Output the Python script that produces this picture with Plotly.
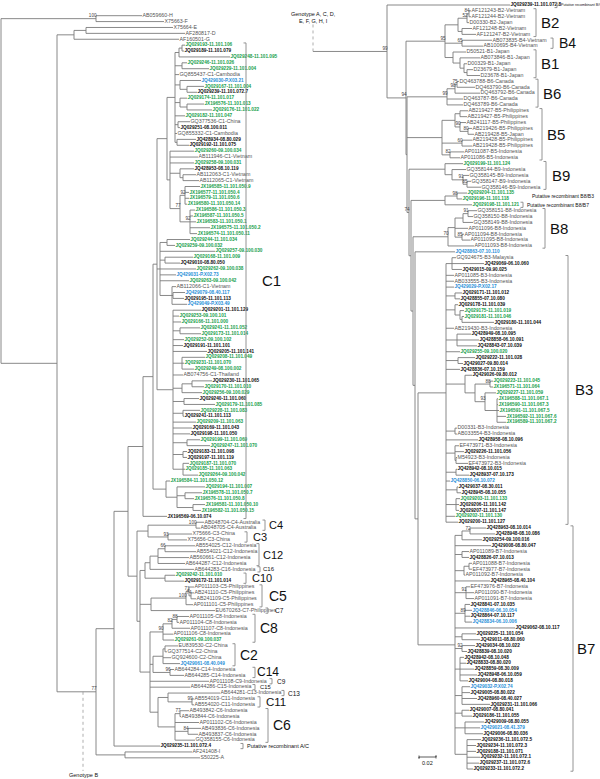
import plotly.graph_objects as go

# Branch lengths are in units of 0.02/17 substitutions per site (scale bar = 17 units)
SCALE_BAR_UNITS = 17
SCALE_BAR_LABEL = "0.02"

# ---------------- left panel: genotype C and outgroups ----------------
HF = "(AB059660-H:46,X75663-F:68)100:95"
EDG = "((X75664-E:87,AF280817-D:99):12,AF160501-G:105):17"

C1_BLOCK_A = ("(((JQ029193-11.101.106:3,JQ029189-11.101.079:2):3,JQ029248-11.101.095:51):4,"
              "(JQ029246-11.101.026:5,JQ029229-11.101.004:27):7,GQ855437-C1-Cambodia:4,"
              "(JQ429030-P.X03.21:21,(JQ029167-11.101.004:17,JQ029239-11.101.072.7:10):7):5,"
              "(JQ029174-11.101.017:7,(JX196576-11.101.013:17,JQ029176-11.101.022:25):7):5,"
              "JQ029182-11.101.047:10,(GQ377536-C1-China:12,JQ029251-08.100.011:2):3,"
              "GQ855332-C1-Cambodia:2,(JQ428934-08.80.029:19,JQ029192-11.101.075:12):2):8")
C1_BLOCK_B = ("(JQ029260-09.100.034:24,AB111946-C1-Vietnam:28,JQ029258-09.100.031:24,"
              "(JQ428953-08.10.119:14,(AB112063-C1-Vietnam:13,AB112065-C1-Vietnam:16):3):10,"
              "((JX196585-11.101.050.9:15,JX196577-11.101.050.4:4,JX196579-11.101.050.6:4,"
              "JX196580-11.101.050.14:2)92:5,(JX196586-11.101.050.3:5,JX196587-11.101.050.5:3,"
              "JX196583-11.101.050.1:6,JX196575-11.101.050.2:20,JX196574-11.101.050.11:7)92:10)77:10):3")
C1_BLOCK_C = ("((JQ029244-11.101.034:23,JQ029259-09.100.032:8):7,JQ029257-09.100.030:55,"
              "(JQ029168-11.101.009:28,JQ429010-08.80.050:15):5,JQ029262-09.100.038:36,"
              "JQ429031-P.X02.73:16,JQ029263-09.100.042:29,"
              "(AB112066-C1-Vietnam:4,(JQ429079-08.40.117:12,JQ029195-11.101.113:11):1,"
              "JQ429049-P.X03.49:15):12):3")
C1_BLOCK_D = ("(JQ029201-11.101.129:28,JQ029253-09.100.101:6,JQ029166-11.101.000:8,"
              "(JQ029241-11.101.052:20,JQ029173-11.101.014:21):7,JQ029252-09.100.102:11,"
              "JQ029191-11.101.101:10,JQ029205-11.101.141:34,"
              "(JQ029208-11.101.049:23,JQ029231-11.101.070:2,JQ029249-08.100.002:12):9,"
              "AB074756-C1-Thailand:10,"
              "((JQ029230-11.101.065:20,JQ029170-11.101.010:12):10,JQ029256-09.100.029:20):9,"
              "(JQ029240-11.101.060:15,JQ029179-11.101.085:31):11,"
              "(JQ029228-11.101.083:17,JQ029241-11.101.113:1):10,JQ029209-11.101.063:23,"
              "JQ029169-11.101.043:19,JQ029198-11.101.050:17,"
              "(JQ029199-11.101.069:13,JQ029247-11.101.070:23):14,"
              "(JQ029183-11.101.098:4,JQ029197-11.101.119:4):10,"
              "(JQ029187-11.101.070:6,JQ029185-11.101.063:2,JQ029264-09.100.042:15):10):16")
C1_LOW = ("(JX196584-11.101.050.12:4,(JQ029194-11.101.007:28,"
          "(JX196578-11.101.050.7:17,JX196576-11.101.050.8:9):8,"
          "(JX196581-11.101.050.10:12,JX196582-11.101.050.15:8):16):11):13")
C1 = f"(((({C1_BLOCK_A},{C1_BLOCK_B}):10,{C1_BLOCK_C},{C1_BLOCK_D}):4,{C1_LOW}):10,JX196569-06.10.074:24):15"

C4_C3 = ("((AB048704-C4-Australia:8,AB048705-C4-Australia:4)100:48,"
         "(X75666-C3-China:24,X75656-C3-China:19)93:20):11")
C12_C16_C10 = ("((((AB554025-C12-Indonesia:30,AB554021-C12-Indonesia:31)66:7,"
               "AB560661-C12-Indonesia:31,AB644287-C12-Indonesia:27):8,AB644283-C16-Indonesia:44):5,"
               "(JQ029242-11.101.010:10,JQ029172-11.101.014:19):20):5")
C5_C7 = ("(((AP011103-C5-Philippines:5,(AB241110-C5-Philippines:3,AB241109-C5-Philippines:5)74:2)71:3,"
         "AP011101-C5-Philippines:7)100:35,EU670263-C7-Philippines:64):11")
C8 = ("(((AP011105-C8-Indonesia:12,AP011104-C8-Indonesia:2)88:5,AP011107-C8-Indonesia:18)82:9,"
      "AP011106-C8-Indonesia:10,JQ029261-09.100.037:11)90:13")
C2_C14 = ("(((EU839530-C2-China:13,GQ377514-C2-China:2):2,GQ924600-C2-China:8,JQ429061-08.40.049:17):10,"
          "(AB644284-C14-Indonesia:4,AB644285-C14-Indonesia:14)96:17):3")
C13_C11_C6 = ("((AB644281-C13-Indonesia:52,(AB554019-C11-Indonesia:2,AB554020-C11-Indonesia:2)99:24):10,"
              "((AB493842-C6-Indonesia:9,AB493844-C6-Indonesia:1)77:5,AP011102-C6-Indonesia:24,"
              "(AB493836-C6-Indonesia:13,AB493837-C6-Indonesia:10)84:13,GQ358155-C6-Indonesia:20):17):8")
C_OTHERS = (f"({C4_C3},({C12_C16_C10},{C5_C7},({C8},{C2_C14},AP011108-C9-Indonesia:59,"
            f"AB644286-C15-Indonesia:40,{C13_C11_C6}):10):3):9")
LEFT_TREE = (f"({HF},({EDG},((({C1},{C_OTHERS}):14,JQ029235-11.101.072.4:46):18,"
             f"(AF241408-I:67,S50225-A:75):29)77:39):56);")

# ---------------- right panel: genotype B ----------------
B2 = ("(((AF121243-B2-Vietnam:2,AF121244-B2-Vietnam:2)84:2,D00330-B2-Japan:2)52:9,"
      "(AF121248-B2-Vietnam:10,AF121247-B2-Vietnam:14):4)")
B4 = "(AB073835-B4-Vietnam:30,AB100695-B4-Vietnam:21)65"
B1 = ("(D50521-B1-Japan:13,(AB073846-B1-Japan:20,(D00329-B1-Japan:3,"
      "(D23679-B1-Japan:6,D23678-B1-Japan:13):3):4):7)")
B6 = ("(((DQ463788-B6-Canada:2,DQ463790-B6-Canada:18)75:2,DQ463792-B6-Canada:25)98:8,"
      "DQ463787-B6-Canada:16,DQ463789-B6-Canada:16)99")
B5 = ("(((AB219427-B5-Philippines:8,AB219427-B5-Philippines:7):5,(AB241117-B5-Philippines:6,"
      "(AB219426-B5-Philippines:4,AB219428-B5-Japan:6)80:8)90:5):13,"
      "(AB219428-B5-Philippines:10,AB219428-B5-Philippines:10)60:20,"
      "(AP011087-B5-Indonesia:14,AP011086-B5-Indonesia:10)82:8)")
B9 = ("(JQ029199-11.101.124:18,(GQ358144-B9-Indonesia:14,(GQ358145-B9-Indonesia:6,"
      "(GQ358147-B9-Indonesia:4,GQ358146-B9-Indonesia:14)85:4)91:11):7)")
REC_B8 = "((JQ029204-11.101.135:10,JQ029196-11.101.118:5)98:12,JQ029198-11.101.121:27)"
B8 = ("((((GQ358151-B8-Indonesia:9,GQ358150-B8-Indonesia:5)91:5,GQ358149-B8-Indonesia:10):8,"
      "AP011096-B8-Indonesia:13,(AP011094-B8-Indonesia:2,AP011095-B8-Indonesia:8)85:7):7,"
      "AP011093-B8-Indonesia:26)70")
B3 = ("((GQ924675-B3-Malaysia:4,JQ429069-06.10.060:32,JQ429015-09.90.025:10):6,"
      "AP011085-B3-Indonesia:8,AB033555-B3-Indonesia:8,JQ429029-P.X02.17:8,"
      "(JQ029171-11.101.012:7,JQ428855-07.10.080:5):9,"
      "(JQ029178-11.101.039:3,(JQ029175-11.101.019:4,(JQ029181-11.101.046:2,JQ029180-11.101.044:32):2):5):9,"
      "AB219430-B3-Indonesia:8,(JQ428949-08.10.095:14,JQ428858-06.10.091:22,JQ428843-07.10.039:20):11,"
      "JQ029255-09.100.020:14,(JQ029222-11.101.028:17,JQ429027-09.80.014:5):12,JQ428836-07.10.159:14,"
      "(JQ429026-09.80.012:7,((JQ029223-11.101.045:3,JX196571-11.101.064:3)88:15,"
      "(JQ029227-11.101.059:11,(JX196588-11.101.067.1:1,JX196590-11.101.067.3:1,"
      "JX196591-11.101.067.5:2,JX196592-11.101.067.6:9,JX196589-11.101.067.2:9):12)93:10):10):19,"
      "(D00331-B3-Indonesia:2,AB033554-B3-Indonesia:2):9,JQ428958-08.10.096:32,"
      "(EF473971-B3-Indonesia:4,JQ029226-11.101.056:9,(M54923-B3-Indonesia:1,EF473972-B3-Indonesia:12):1):9,"
      "(JQ428942-08.10.015:1,JQ428937-07.10.173:13):10,JQ428850-06.10.072:4,"
      "(JQ429037-08.30.011:1,JQ428945-08.10.055:4):11,"
      "(JQ029203-11.101.133:4,JQ029206-11.101.142:3,JQ029207-11.101.147:3):10,"
      "JQ029202-11.101.130:9,JQ029200-11.101.127:12)")
B7 = ("(((JQ428963-08.10.014:16,JQ428948-08.10.086:25)72:8,JQ029254-09.100.016:20):7,"
      "JQ429008-08.80.047:36,(AP011089-B7-Indonesia:7,JQ428826-07.10.013:7):7,"
      "((AP011088-B7-Indonesia:3,EF473977-B7-Indonesia:3):5,AP011092-B7-Indonesia:1):9,"
      "JQ428965-08.40.104:35,(EF473976-B7-Indonesia:4,AP011090-B7-Indonesia:8,AP011091-B7-Indonesia:8)91:11,"
      "(JQ428841-07.10.035:5,JQ428846-06.10.054:7,JQ428864-07.10.117:5,JQ428834-06.10.006:7)89:10,"
      "JQ429062-08.10.117:60,(JQ029225-11.101.054:14,JQ429011-08.80.060:18):7,"
      "(JQ429034-08.10.022:13,JQ428839-08.10.020:5)92:7,"
      "(JQ428942-08.10.048:4,JQ428833-08.80.020:6,JQ428859-08.30.009:14,JQ428948-06.10.059:17,"
      "JQ429004-08.80.018:8):5,"
      "(JQ429032-P.X02.74:8,JQ429005-08.80.022:8,JQ428960-08.40.027:15,JQ029231-11.101.066:28):7,"
      "(JQ429007-08.80.041:7,JQ029186-11.101.055:10):7,"
      "(JQ429009-08.80.055:19,JQ429021-08.41.379:15,JQ429006-08.80.036:18):10,"
      "(JQ029236-11.101.072.5:14,JQ029234-11.101.072.3:9,JQ029188-11.101.071:9,"
      "JQ029232-11.101.072.1:13,JQ029237-11.101.072.6:12,JQ029233-11.101.072.2:6):12)")
RIGHT_TREE = (f"(JQ029239-11.101.072.8:123,(({B2}:13,{B4}:17,{B1}:8)95:39,"
              f"({B6}:40,{B5}:35,({B9}:36,({REC_B8}:34,({B8}:35,"
              f"(JQ428863-07.10.110:40,({B3}:28,{B7}:37):3):2):2):2)74:2):1)94:19)99:74;")

GREEN_TIPS = [
    "JQ029193-11.101.106", "JQ029248-11.101.095", "JQ029246-11.101.026", "JQ029229-11.101.004",
    "JQ029167-11.101.004", "JQ029174-11.101.017", "JX196576-11.101.013", "JQ029176-11.101.022",
    "JQ029182-11.101.047", "JQ029260-09.100.034", "JQ029258-09.100.031", "JX196585-11.101.050.9",
    "JX196577-11.101.050.4", "JX196579-11.101.050.6", "JX196580-11.101.050.14", "JX196586-11.101.050.3",
    "JX196587-11.101.050.5", "JX196583-11.101.050.1", "JX196575-11.101.050.2", "JX196574-11.101.050.11",
    "JQ029244-11.101.034", "JQ029259-09.100.032", "JQ029257-09.100.030", "JQ029168-11.101.009",
    "JQ029262-09.100.038", "JQ029263-09.100.042", "JQ029253-09.100.101", "JQ029166-11.101.000",
    "JQ029241-11.101.052", "JQ029173-11.101.014", "JQ029252-09.100.102", "JQ029208-11.101.049",
    "JQ029231-11.101.070", "JQ029249-08.100.002", "JQ029170-11.101.010", "JQ029256-09.100.029",
    "JQ029179-11.101.085", "JQ029228-11.101.083", "JQ029209-11.101.063", "JQ029199-11.101.069",
    "JQ029247-11.101.070", "JQ029187-11.101.070", "JQ029185-11.101.063", "JQ029264-09.100.042",
    "JX196584-11.101.050.12", "JQ029194-11.101.007", "JX196578-11.101.050.7", "JX196576-11.101.050.8",
    "JX196581-11.101.050.10", "JX196582-11.101.050.15", "JQ029242-11.101.010", "JQ029261-09.100.037",
    "JQ029199-11.101.124", "JQ029204-11.101.135", "JQ029196-11.101.118", "JQ029198-11.101.121",
    "JQ029175-11.101.019", "JQ029181-11.101.046", "JQ029255-09.100.020", "JQ029223-11.101.045",
    "JX196571-11.101.064", "JQ029227-11.101.059", "JX196588-11.101.067.1", "JX196590-11.101.067.3",
    "JX196591-11.101.067.5", "JX196592-11.101.067.6", "JX196589-11.101.067.2", "JQ029203-11.101.133",
    "JQ029202-11.101.130",
]
BLUE_TIPS = [
    "JQ429030-P.X03.21", "JQ429031-P.X02.73", "JQ429079-08.40.117", "JQ429049-P.X03.49",
    "JQ429061-08.40.049", "JQ428863-07.10.110", "JQ429029-P.X02.17", "JQ428850-06.10.072",
    "JQ428846-06.10.054", "JQ428834-06.10.006", "JQ429032-P.X02.74", "JQ429021-08.41.379",
]

# clade brackets: (label, first tip, last tip)
LEFT_CLADES = [
    ("C1", "JQ029193-11.101.106", "JX196569-06.10.074"),
    ("C4", "AB048704-C4-Australia", "AB048705-C4-Australia"),
    ("C3", "X75666-C3-China", "X75656-C3-China"),
    ("C12", "AB554025-C12-Indonesia", "AB644287-C12-Indonesia"),
    ("C16", "AB644283-C16-Indonesia", "AB644283-C16-Indonesia"),
    ("C10", "JQ029242-11.101.010", "JQ029172-11.101.014"),
    ("C5", "AP011103-C5-Philippines", "AP011101-C5-Philippines"),
    ("C7", "EU670263-C7-Philippines", "EU670263-C7-Philippines"),
    ("C8", "AP011105-C8-Indonesia", "JQ029261-09.100.037"),
    ("C2", "EU839530-C2-China", "JQ429061-08.40.049"),
    ("C14", "AB644284-C14-Indonesia", "AB644285-C14-Indonesia"),
    ("C9", "AP011108-C9-Indonesia", "AP011108-C9-Indonesia"),
    ("C15", "AB644286-C15-Indonesia", "AB644286-C15-Indonesia"),
    ("C13", "AB644281-C13-Indonesia", "AB644281-C13-Indonesia"),
    ("C11", "AB554019-C11-Indonesia", "AB554020-C11-Indonesia"),
    ("C6", "AB493842-C6-Indonesia", "GQ358155-C6-Indonesia"),
    ("Putative recombinant A/C", "JQ029235-11.101.072.4", "JQ029235-11.101.072.4"),
]
RIGHT_CLADES = [
    ("Putative recombinant B/C", "JQ029239-11.101.072.8", "JQ029239-11.101.072.8"),
    ("B2", "AF121243-B2-Vietnam", "AF121247-B2-Vietnam"),
    ("B4", "AB073835-B4-Vietnam", "AB100695-B4-Vietnam"),
    ("B1", "D50521-B1-Japan", "D23678-B1-Japan"),
    ("B6", "DQ463788-B6-Canada", "DQ463789-B6-Canada"),
    ("B5", "AB219427-B5-Philippines", "AP011086-B5-Indonesia"),
    ("B9", "JQ029199-11.101.124", "GQ358146-B9-Indonesia"),
    ("Putative recombinant B8/B7", "JQ029198-11.101.121", "JQ029198-11.101.121"),
    ("B8", "GQ358151-B8-Indonesia", "AP011093-B8-Indonesia"),
    ("B3", "GQ924675-B3-Malaysia", "JQ029200-11.101.127"),
    ("B7", "JQ428963-08.10.014", "JQ029233-11.101.072.2"),
]
FREE_NOTE = ("Putative recombinant B8/B3", "JQ029204-11.101.135", "JQ029196-11.101.118")

# ---------------- layout / style (not data) ----------------
BRACKET_POS = {  # label: (bracket x, text x, font size)
    "C1": (246, 261, 15), "C4": (265, 268, 11), "C3": (247, 252, 11), "C12": (259, 262, 11),
    "C16": (260, 262, 6), "C10": (246, 251, 11), "C5": (262, 268, 14), "C7": (268, 274, 6.5),
    "C8": (255, 259, 14), "C2": (235, 239, 14), "C14": (255, 256, 12), "C9": (272, 276, 6.5),
    "C15": (255, 259, 5.8), "C13": (284, 287, 6.5), "C11": (260, 265, 11.5), "C6": (268, 272, 14),
    "Putative recombinant A/C": (243, 246, 5.5),
    "Putative recombinant B/C": (557, 560, 3.6), "B2": (536, 540, 15), "B4": (553, 558, 14),
    "B1": (536, 540, 15), "B6": (538, 542, 15), "B5": (542, 546, 15), "B9": (546, 551, 15),
    "Putative recombinant B8/B7": (523, 526, 5), "B8": (545, 549, 15), "B3": (568, 574, 15),
    "B7": (573, 576, 15),
}
FONT = "Arial, Liberation Sans, sans-serif"
GREEN, BLUE, BLACK, GREY = "#18a04c", "#2a8fd8", "#111111", "#555555"
LINE = "#7c7c7c"


def parse_newick(s):
    s = s.strip().rstrip(";")
    pos = 0

    def node():
        nonlocal pos
        n = {"children": [], "name": "", "len": 0.0}
        if s[pos] == "(":
            pos += 1
            while True:
                n["children"].append(node())
                if s[pos] == ",":
                    pos += 1
                    continue
                pos += 1
                break
        start = pos
        while pos < len(s) and s[pos] not in ",():":
            pos += 1
        n["name"] = s[start:pos]
        if pos < len(s) and s[pos] == ":":
            pos += 1
            start = pos
            while pos < len(s) and s[pos] not in ",()":
                pos += 1
            n["len"] = float(s[start:pos])
        return n

    return node()


def layout(tree, x0, y0, dy):
    leaves, nodes = [], []

    def walk(n, px):
        n["px"] = px
        n["x"] = px + n["len"]
        if n["children"]:
            for c in n["children"]:
                walk(c, n["x"])
            n["y"] = (n["children"][0]["y"] + n["children"][-1]["y"]) / 2
            nodes.append(n)
        else:
            n["y"] = y0 + len(leaves) * dy
            leaves.append(n)

    walk(tree, x0)
    return leaves, nodes


left_root = parse_newick(LEFT_TREE)
right_root = parse_newick(RIGHT_TREE)
left_leaves, left_nodes = layout(left_root, 1, 15.7, 5.89)
right_leaves, right_nodes = layout(right_root, 313, 5.0, 5.877)

lx, ly = [], []
for leaves, nodes in ((left_leaves, left_nodes), (right_leaves, right_nodes)):
    for n in leaves + nodes:
        if n["len"] > 0:
            lx += [n["px"], n["x"], None]
            ly += [n["y"], n["y"], None]
    for n in nodes:
        lx += [n["x"], n["x"], None]
        ly += [n["children"][0]["y"], n["children"][-1]["y"], None]

fig = go.Figure()
fig.add_trace(go.Scatter(x=lx, y=ly, mode="lines", line=dict(color=LINE, width=0.9),
                         hoverinfo="skip", showlegend=False))

# tip labels
groups = {"green": ([], [], []), "blue": ([], [], []), "black": ([], [], []), "grey": ([], [], [])}
for n in left_leaves + right_leaves:
    name = n["name"]
    if name in GREEN_TIPS:
        g = "green"
    elif name in BLUE_TIPS:
        g = "blue"
    elif name.startswith(("JQ", "JX")):
        g = "black"
    else:
        g = "grey"
    groups[g][0].append(n["x"] + 0.5)
    groups[g][1].append(n["y"])
    groups[g][2].append(f"<b>{name}</b>" if g != "grey" else name)
tip_style = {"green": (GREEN, 4.7), "blue": (BLUE, 4.7), "black": (BLACK, 4.7), "grey": (GREY, 5.3)}
for g, (xs, ys, ts) in groups.items():
    col, size = tip_style[g]
    fig.add_trace(go.Scatter(x=xs, y=ys, text=ts, mode="text", textposition="middle right",
                             textfont=dict(color=col, size=size, family=FONT),
                             hoverinfo="skip", showlegend=False))

# bootstrap values
bx, by, bt = [], [], []
for n in left_nodes + right_nodes:
    if n["name"]:
        bx.append(n["x"] + 0.5)
        by.append(n["y"] - 0.3)
        bt.append(n["name"])
fig.add_trace(go.Scatter(x=bx, y=by, text=bt, mode="text", textposition="top left",
                         textfont=dict(color="#444", size=4.6, family=FONT),
                         hoverinfo="skip", showlegend=False))

# clade brackets
tip_y = {}
for n in left_leaves + right_leaves:
    tip_y.setdefault(n["name"], n["y"])
kx, ky = [], []
for label, first, last in LEFT_CLADES + RIGHT_CLADES:
    bxp, txp, fs = BRACKET_POS[label]
    y1, y2 = tip_y[first], tip_y[last]
    if first == last:
        y1, y2 = y1 - 2.6, y2 + 2.6
    else:
        y1, y2 = y1 - 2.2, y2 + 2.2
    kx += [bxp - 2.5, bxp, bxp, bxp - 2.5, None]
    ky += [y1, y1, y2, y2, None]
    fig.add_annotation(x=txp, y=(y1 + y2) / 2, text=label, showarrow=False, xanchor="left",
                       yanchor="middle", borderpad=0,
                       font=dict(size=fs, color=BLACK, family=FONT))
fig.add_trace(go.Scatter(x=kx, y=ky, mode="lines", line=dict(color="#888", width=0.9),
                         hoverinfo="skip", showlegend=False))
note, a, b = FREE_NOTE
fig.add_annotation(x=530, y=(tip_y[a] + tip_y[b]) / 2, text=note, showarrow=False,
                   xanchor="left", yanchor="middle", font=dict(size=5, color=BLACK, family=FONT))

# links between panels
n96 = left_root["children"][1]["children"][1]
gx = n96["px"] + 26
fig.add_trace(go.Scatter(x=[gx, gx], y=[n96["y"], 771], mode="lines",
                         line=dict(color="#999", width=0.8, dash="dot"),
                         hoverinfo="skip", showlegend=False))
fig.add_annotation(x=gx, y=775, text="Genotype B", showarrow=False,
                   font=dict(size=5.5, color=BLACK, family=FONT))
rx = right_root["px"]
fig.add_trace(go.Scatter(x=[rx, rx], y=[right_root["y"], 24], mode="lines",
                         line=dict(color="#999", width=0.8, dash="dot"),
                         hoverinfo="skip", showlegend=False))
fig.add_annotation(x=rx, y=17, text="Genotype A, C, D,<br>E, F, G, H, I", showarrow=False,
                   font=dict(size=5.5, color=BLACK, family=FONT))

# scale bar
sx0, sy = 419, 757
fig.add_trace(go.Scatter(x=[sx0, sx0, sx0, sx0 + SCALE_BAR_UNITS, sx0 + SCALE_BAR_UNITS, sx0 + SCALE_BAR_UNITS],
                         y=[sy - 1.5, sy + 1.5, sy, sy, sy - 1.5, sy + 1.5], mode="lines",
                         line=dict(color="#333", width=0.8), hoverinfo="skip", showlegend=False))
fig.add_annotation(x=sx0 + SCALE_BAR_UNITS / 2, y=sy + 5.5, text=SCALE_BAR_LABEL, showarrow=False,
                   font=dict(size=5.5, color=BLACK, family=FONT))

fig.update_layout(
    width=600, height=779, margin=dict(l=0, r=0, t=0, b=0),
    paper_bgcolor="white", plot_bgcolor="white",
    xaxis=dict(range=[0, 600], visible=False, fixedrange=True),
    yaxis=dict(range=[779, 0], visible=False, fixedrange=True),
)
fig.write_html("out.html", config={"displayModeBar": False},
               post_script="document.body.style.margin='0';")
